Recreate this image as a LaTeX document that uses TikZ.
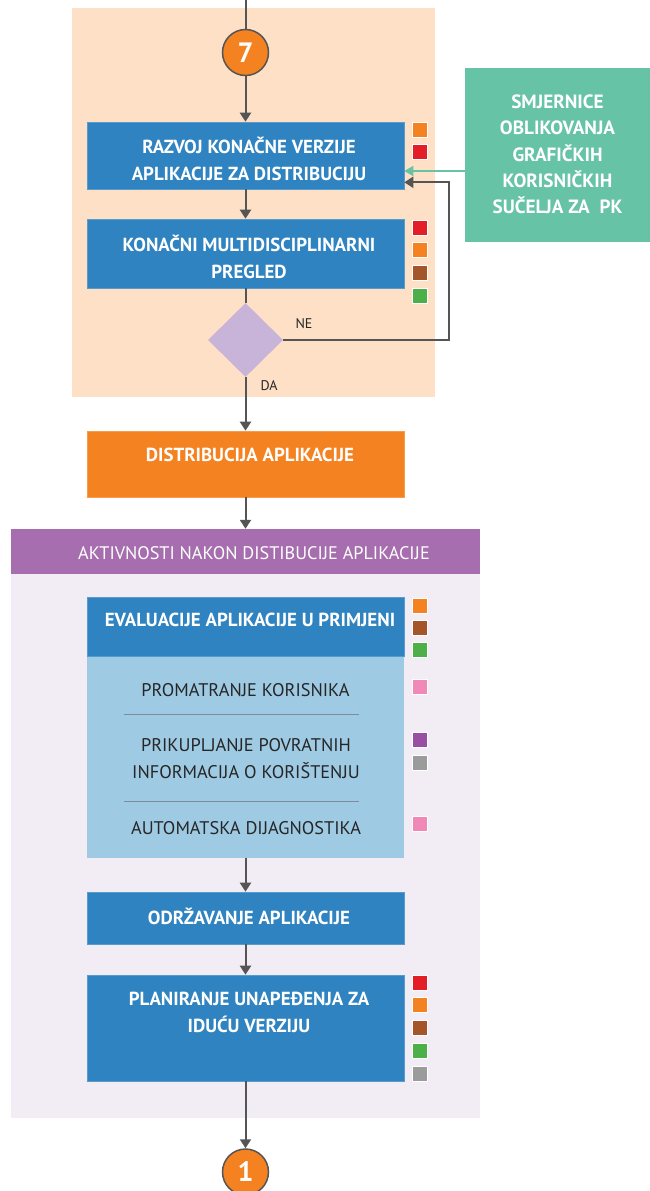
\documentclass[tikz,border=0pt]{standalone}
\usepackage{fontspec}
\setmainfont{PT Sans}
\usetikzlibrary{shapes.geometric,arrows.meta,calc}
\definecolor{peach}{HTML}{FEE0C7}
\definecolor{bblue}{HTML}{2E83C0}
\definecolor{orng}{HTML}{F58220}
\definecolor{sred}{HTML}{E31E26}
\definecolor{sbrown}{HTML}{A5552A}
\definecolor{sgreen}{HTML}{4CAF48}
\definecolor{spink}{HTML}{F088B8}
\definecolor{spurple}{HTML}{984EA3}
\definecolor{sgray}{HTML}{9B9B9B}
\definecolor{diamc}{HTML}{C8B4D9}
\definecolor{greenbox}{HTML}{66C3A5}
\definecolor{hdrc}{HTML}{A66EAE}
\definecolor{lav}{HTML}{F2ECF4}
\definecolor{lblue}{HTML}{9ECBE3}
\definecolor{lgray}{HTML}{555555}
\definecolor{sepc}{HTML}{7D8C98}
\tikzset{
  bluebox/.style={rectangle, fill=bblue, draw=bblue!80!white, line width=0.6pt, minimum width=317pt, inner sep=0pt},
  wtxt/.style={text=white, font=\fontsize{18.9}{27}\selectfont\bfseries, align=center, inner sep=0pt},
  dtxt/.style={text=black!85, font=\fontsize{18.3}{27}\selectfont, align=center, inner sep=0pt},
  sq/.style={rectangle, minimum size=15pt, inner sep=0pt, draw=white, line width=0.4pt},
  arr/.style={draw=lgray, line width=2pt, -{Triangle[width=11pt,length=9pt]}},
  plain/.style={draw=lgray, line width=2pt},
  garr/.style={draw=greenbox, line width=1.6pt, -{Triangle[width=10pt,length=9pt]}},
  numc/.style={circle, fill=orng, draw=lgray, line width=1.5pt, minimum size=46pt, inner sep=0pt, text=white, font=\fontsize{28}{28}\selectfont\bfseries},
  lbl/.style={text=black!85, font=\fontsize{14}{14}\selectfont, inner sep=0pt},
  sepline/.style={draw=sepc, line width=1pt}
}
\begin{document}
\begin{tikzpicture}[x=1pt,y=-1pt]
\useasboundingbox (0,0) rectangle (650,1191);
% backgrounds
\fill[peach] (72,8) rectangle (435,397);
\fill[lav] (11,574) rectangle (480,1118);
% top part
\coordinate (top) at (245.5,0);
\node[numc] (c7) at (245.5,52.5) {7};
\node[bluebox, minimum height=67pt] (b1) at (245.5,155.5) {};
\node[wtxt] at (249,158.5) {RAZVOJ KONAČNE VERZIJE\\APLIKACIJE ZA DISTRIBUCIJU};
\node[sq, fill=orng] (s1a) at (419.5,129.5) {};
\node[sq, fill=sred] (s1b) at (419.5,151.5) {};
\node[bluebox, minimum height=69pt] (b2) at (245.5,253.5) {};
\node[wtxt] at (249,256.5) {KONAČNI MULTIDISCIPLINARNI\\PREGLED};
\node[sq, fill=sred] (s2a) at (419.5,227.5) {};
\node[sq, fill=orng] (s2b) at (419.5,250) {};
\node[sq, fill=sbrown] (s2c) at (419.5,272.5) {};
\node[sq, fill=sgreen] (s2d) at (419.5,295.5) {};
\node[diamond, aspect=1, fill=diamc, minimum width=75pt, minimum height=74pt, inner sep=0pt] (dec) at (245.5,340) {};
\node[lbl] (ne) at (304,324) {NE};
\node[lbl] (da) at (269,386) {DA};
\node[rectangle, fill=greenbox, minimum width=185pt, minimum height=174pt, inner sep=0pt] (gb) at (557.5,155) {};
\node[wtxt, font=\fontsize{19.2}{26.3}\selectfont\bfseries] at (557.5,154.5) {SMJERNICE\\OBLIKOVANJA\\GRAFIČKIH\\KORISNIČKIH\\SUČELJA ZA~~PK};
% distribution
\node[rectangle, fill=orng, draw=orng!80!white, line width=0.6pt, minimum width=317pt, minimum height=66pt, inner sep=0pt] (dist) at (245.5,464) {};
\node[wtxt] at (250,455) {DISTRIBUCIJA APLIKACIJE};
% header
\node[rectangle, fill=hdrc, minimum width=469pt, minimum height=45pt, inner sep=0pt] (hdr) at (245.5,551.5) {};
\node[wtxt, font=\fontsize{18.2}{18}\selectfont] at (254,553) {AKTIVNOSTI NAKON DISTIBUCIJE APLIKACIJE};
% evaluation
\node[rectangle, fill=lblue, minimum width=317pt, minimum height=202pt, inner sep=0pt] (lb) at (245.5,757) {};
\node[bluebox, minimum height=59pt] (ev) at (245.5,626.5) {};
\node[wtxt] at (250,620) {EVALUACIJE APLIKACIJE U PRIMJENI};
\node[sq, fill=orng] (s3a) at (419.5,605.5) {};
\node[sq, fill=sbrown] (s3b) at (419.5,627.5) {};
\node[sq, fill=sgreen] (s3c) at (419.5,649.5) {};
\node[dtxt] at (245.5,690) {PROMATRANJE KORISNIKA};
\draw[sepline] (124,714) -- (359,714);
\node[dtxt] at (246,758.5) {PRIKUPLJANJE POVRATNIH\\INFORMACIJA O KORIŠTENJU};
\draw[sepline] (124,801) -- (359,801);
\node[dtxt] at (246,828) {AUTOMATSKA DIJAGNOSTIKA};
\node[sq, fill=spink] (s4a) at (419.5,686.5) {};
\node[sq, fill=spurple] (s4b) at (419.5,739.5) {};
\node[sq, fill=sgray] (s4c) at (419.5,762.5) {};
\node[sq, fill=spink] (s4d) at (419.5,823.5) {};
% maintenance
\node[bluebox, minimum height=52pt] (odr) at (245.5,918) {};
\node[wtxt] at (249,916) {ODRŽAVANJE APLIKACIJE};
\node[bluebox, minimum height=106pt] (plan) at (245.5,1028) {};
\node[wtxt] at (249,1012.5) {PLANIRANJE UNAPEĐENJA ZA\\IDUĆU VERZIJU};
\node[sq, fill=sred] (s5a) at (419.5,982.5) {};
\node[sq, fill=orng] (s5b) at (419.5,1004.5) {};
\node[sq, fill=sbrown] (s5c) at (419.5,1027.5) {};
\node[sq, fill=sgreen] (s5d) at (419.5,1050.5) {};
\node[sq, fill=sgray] (s5e) at (419.5,1073.5) {};
\node[numc] (c1) at (245.5,1172) {1};
% connectors
\draw[plain] (top) -- (c7);
\draw[arr] (c7) -- (b1);
\draw[arr] (b1) -- (b2);
\draw[plain] (b2) -- (dec);
\draw[arr] (dec) -- (dist);
\draw[arr] (dec.east) -- ++(166,0) |- ([yshift=7pt]b1.south east);
\coordinate (g1) at ([yshift=-15.5pt]b1.east);
\draw[garr] (g1 -| gb.west) -- (g1);
\draw[arr] (dist) -- (hdr);
\draw[arr] (lb) -- (odr);
\draw[arr] (odr) -- (plan);
\draw[arr] (plan) -- (c1);
\end{tikzpicture}
\end{document}
